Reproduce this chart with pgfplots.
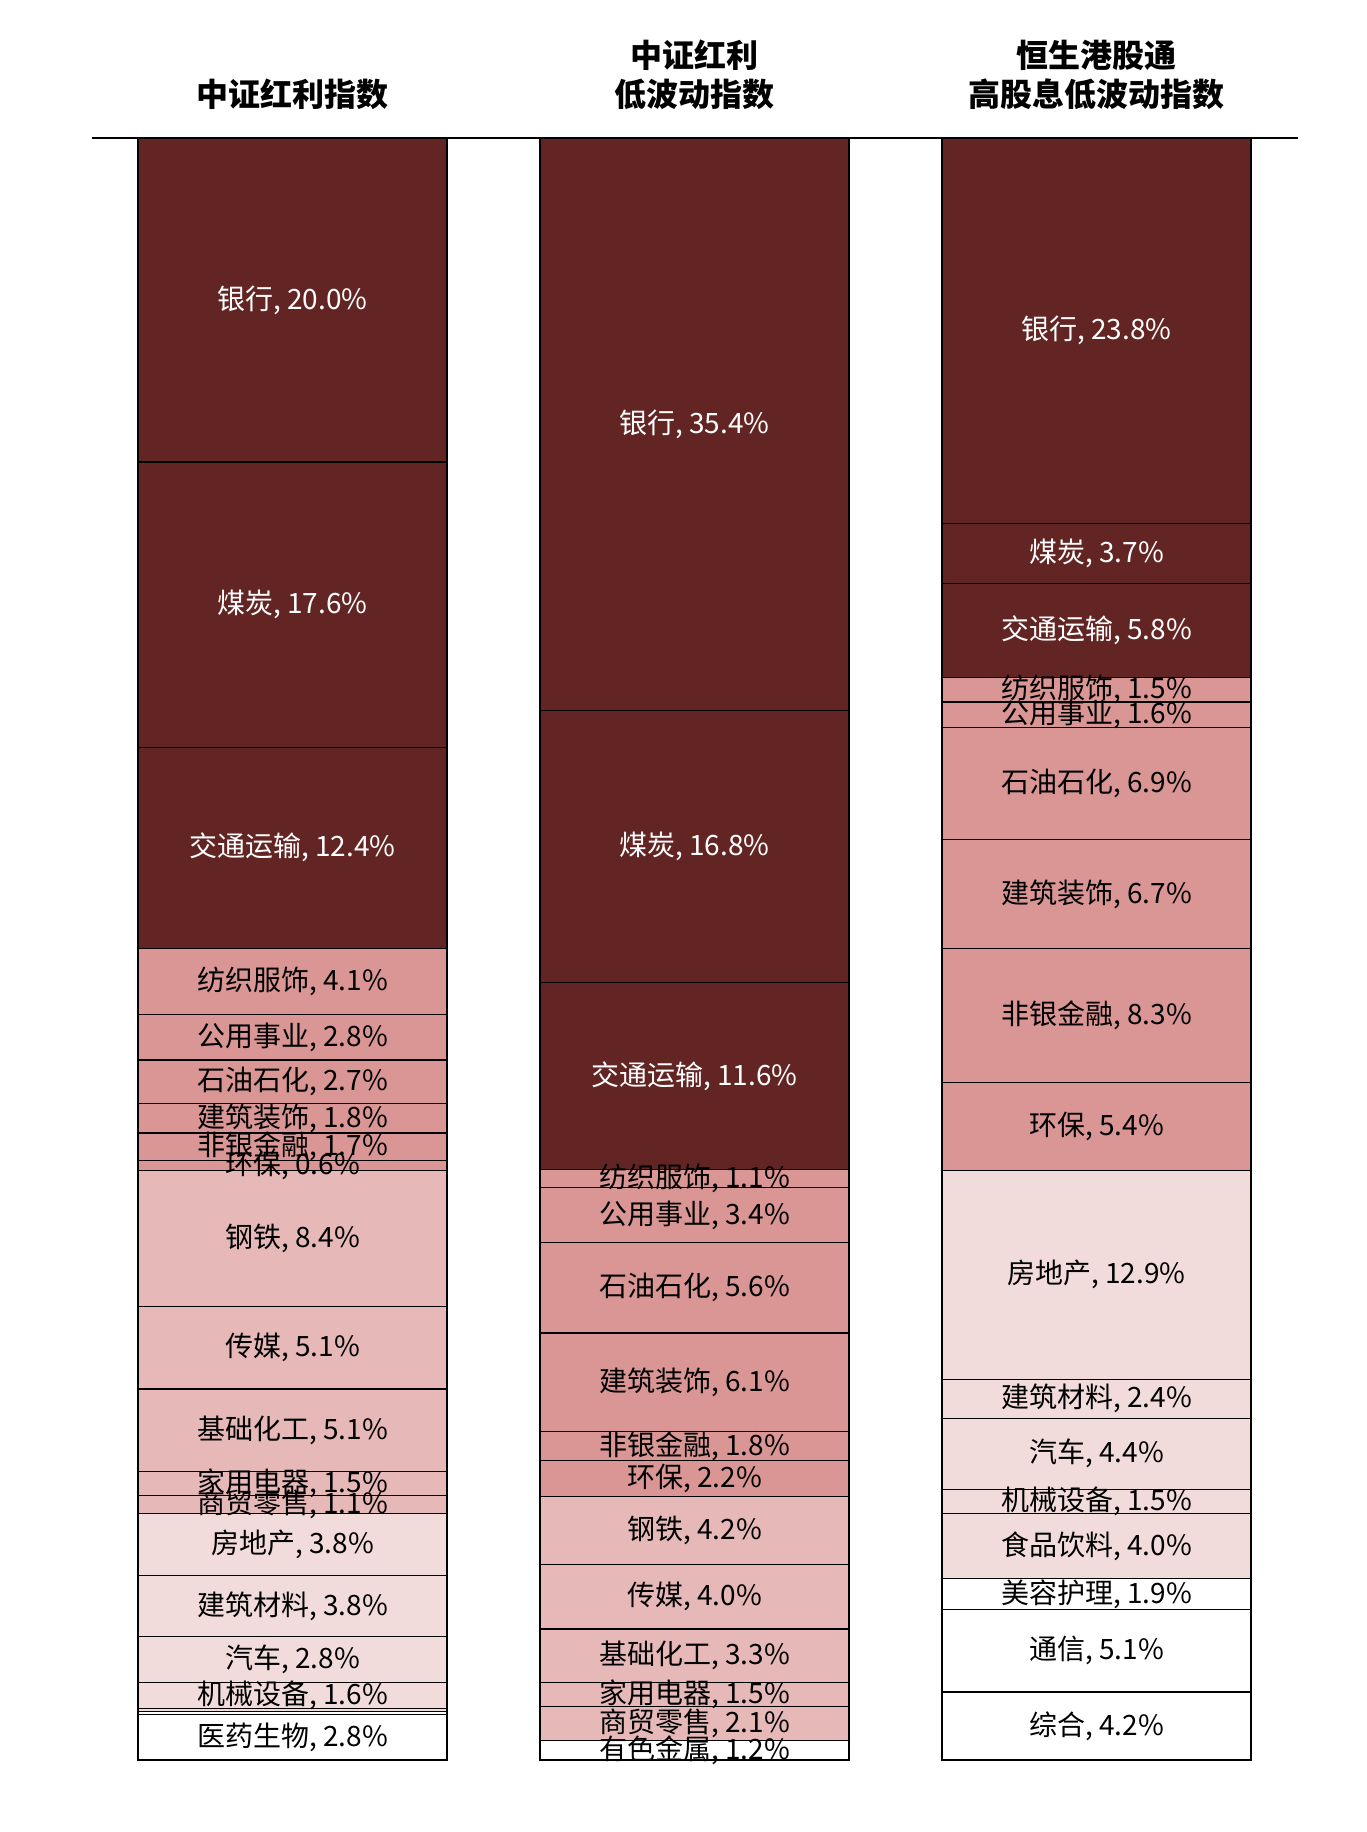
\documentclass[border=0pt]{standalone}
\usepackage{fontspec}
\setmainfont{Noto Sans CJK SC}
\usepackage{pgfplots}
\pgfplotsset{compat=1.18}

\definecolor{dark}{HTML}{632523}
\definecolor{mid}{HTML}{D99694}
\definecolor{light}{HTML}{E6B9B8}
\definecolor{pale}{HTML}{F2DCDB}

\newcommand\lblfont{\fontsize{14pt}{16pt}\selectfont}
\newcommand\ttlfont{\fontsize{16pt}{19pt}\selectfont\bfseries}

% one stacked segment: value, fill, text colour, sector name
% labels are collected in \lbls and drawn after all bars
\newcommand\seg[4]{%
  \addplot[fill=#2] coordinates {(0,#1)};
  \pgfmathsetmacro\segmid{\segcum+#1/2}%
  \pgfmathsetmacro\segcum{\segcum+#1}%
  \edef\lbls{\unexpanded\expandafter{\lbls}\noexpand\node[text=#3, font=\noexpand\lblfont] at (axis cs:0,\segmid) {#4, #1\noexpand\%};}%
}
% segment without a label
\newcommand\blank[2]{%
  \addplot[fill=#2] coordinates {(0,#1)};
  \pgfmathsetmacro\segcum{\segcum+#1}%
}

\pgfplotsset{col/.style={
  hide axis, scale only axis, width=201.5pt, height=811pt,
  xmin=-0.5, xmax=0.5, ymin=0, y dir=reverse,
  ybar stacked, reverse stacked plots=false,
  bar width=154.5pt, clip=false, anchor=south west,
  every axis plot/.append style={draw=black, line width=0.6pt},
}}

\begin{document}
\begin{tikzpicture}
\useasboundingbox (-46.5pt,-36pt) rectangle (636.5pt,880pt);

\begin{axis}[col, at={(-1pt,0pt)}, ymax=100.1]
\def\segcum{0}\def\lbls{}
\seg{20.0}{dark}{white}{银行}
\seg{17.6}{dark}{white}{煤炭}
\seg{12.4}{dark}{white}{交通运输}
\seg{4.1}{mid}{black}{纺织服饰}
\seg{2.8}{mid}{black}{公用事业}
\seg{2.7}{mid}{black}{石油石化}
\seg{1.8}{mid}{black}{建筑装饰}
\seg{1.7}{mid}{black}{非银金融}
\seg{0.6}{mid}{black}{环保}
\seg{8.4}{light}{black}{钢铁}
\seg{5.1}{light}{black}{传媒}
\seg{5.1}{light}{black}{基础化工}
\seg{1.5}{light}{black}{家用电器}
\seg{1.1}{light}{black}{商贸零售}
\seg{3.8}{pale}{black}{房地产}
\seg{3.8}{pale}{black}{建筑材料}
\seg{2.8}{pale}{black}{汽车}
\seg{1.6}{pale}{black}{机械设备}
\blank{0.2}{pale}
\blank{0.2}{white}
\seg{2.8}{white}{black}{医药生物}
\lbls
\end{axis}

\begin{axis}[col, at={(200pt,0pt)}, ymax=100.3]
\def\segcum{0}\def\lbls{}
\seg{35.4}{dark}{white}{银行}
\seg{16.8}{dark}{white}{煤炭}
\seg{11.6}{dark}{white}{交通运输}
\seg{1.1}{mid}{black}{纺织服饰}
\seg{3.4}{mid}{black}{公用事业}
\seg{5.6}{mid}{black}{石油石化}
\seg{6.1}{mid}{black}{建筑装饰}
\seg{1.8}{mid}{black}{非银金融}
\seg{2.2}{mid}{black}{环保}
\seg{4.2}{light}{black}{钢铁}
\seg{4.0}{light}{black}{传媒}
\seg{3.3}{light}{black}{基础化工}
\seg{1.5}{light}{black}{家用电器}
\seg{2.1}{light}{black}{商贸零售}
\seg{1.2}{white}{black}{有色金属}
\lbls
\end{axis}

\begin{axis}[col, at={(401pt,0pt)}, ymax=100.1]
\def\segcum{0}\def\lbls{}
\seg{23.8}{dark}{white}{银行}
\seg{3.7}{dark}{white}{煤炭}
\seg{5.8}{dark}{white}{交通运输}
\seg{1.5}{mid}{black}{纺织服饰}
\seg{1.6}{mid}{black}{公用事业}
\seg{6.9}{mid}{black}{石油石化}
\seg{6.7}{mid}{black}{建筑装饰}
\seg{8.3}{mid}{black}{非银金融}
\seg{5.4}{mid}{black}{环保}
\seg{12.9}{pale}{black}{房地产}
\seg{2.4}{pale}{black}{建筑材料}
\seg{4.4}{pale}{black}{汽车}
\seg{1.5}{pale}{black}{机械设备}
\seg{4.0}{pale}{black}{食品饮料}
\seg{1.9}{white}{black}{美容护理}
\seg{5.1}{white}{black}{通信}
\seg{4.2}{white}{black}{综合}
\lbls
\end{axis}

\draw[line width=1pt] (-0.5pt,811pt) -- (602.5pt,811pt);

\node[font=\ttlfont] at (99.75pt,833pt) {中证红利指数};
\node[font=\ttlfont] at (300.75pt,852.5pt) {中证红利};
\node[font=\ttlfont] at (300.75pt,833pt) {低波动指数};
\node[font=\ttlfont] at (501.75pt,852.5pt) {恒生港股通};
\node[font=\ttlfont] at (501.75pt,833pt) {高股息低波动指数};
\end{tikzpicture}
\end{document}
